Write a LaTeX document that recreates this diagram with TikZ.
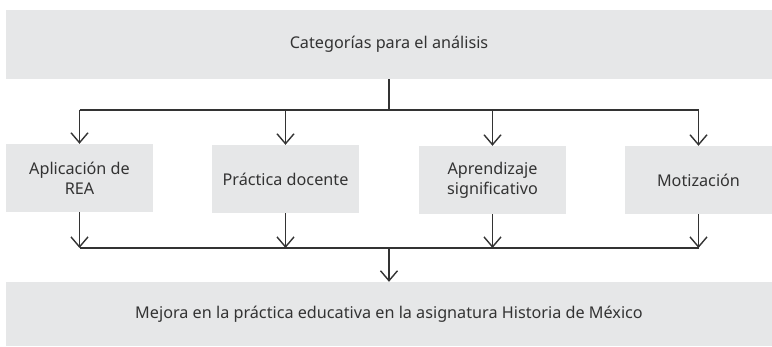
\documentclass[tikz,border=0pt]{standalone}
\usepackage{fontspec}
\setmainfont{Noto Sans}
\usetikzlibrary{arrows.meta}
\definecolor{boxgray}{HTML}{E6E7E8}
\definecolor{linegray}{HTML}{333333}
\tikzset{
  catbox/.style={fill=boxgray, inner sep=0pt, align=center, font=\fontsize{16.2}{20}\selectfont, text=linegray},
  link/.style={draw=linegray, line width=1.4pt},
  arr/.style={link, -{Straight Barb[length=10pt, width=17pt, line width=1.4pt]}}
}
\begin{document}
\begin{tikzpicture}[x=1pt, y=-1pt]
    \useasboundingbox (0,0) rectangle (772,347);

    \node[catbox, minimum width=766pt, minimum height=69pt] (top) at (389,44.5) {Categorías para el análisis};

    \node[catbox, minimum width=147pt, minimum height=68pt] (rea) at (79.5,178) {Aplicación de\\REA};
    \node[catbox, minimum width=147pt, minimum height=68pt] (doc) at (285.5,179) {Práctica docente};
    \node[catbox, minimum width=147pt, minimum height=68pt] (sig) at (492.5,180) {Aprendizaje\\significativo};
    \node[catbox, minimum width=147pt, minimum height=68pt] (mot) at (698.5,180) {Motización};

    \node[catbox, minimum width=766pt, minimum height=64pt] (mej) at (389,314) {Mejora en la práctica educativa en la asignatura Historia de México};

    % split and merge rails
    \coordinate (split) at (389,110);
    \coordinate (merge) at (389,248);
    \draw[link] (top.south) -- (split);
    \draw[link] (split -| rea) -- (split -| mot);
    \draw[link] (merge -| rea) -- (merge -| mot);

    \foreach \c in {rea,doc,sig,mot} {
        \draw[arr] (split -| \c) -- (\c.north);
        \draw[arr] (\c.south) -- (merge -| \c);
    }
    \draw[arr] (merge) -- (mej.north);
\end{tikzpicture}
\end{document}
